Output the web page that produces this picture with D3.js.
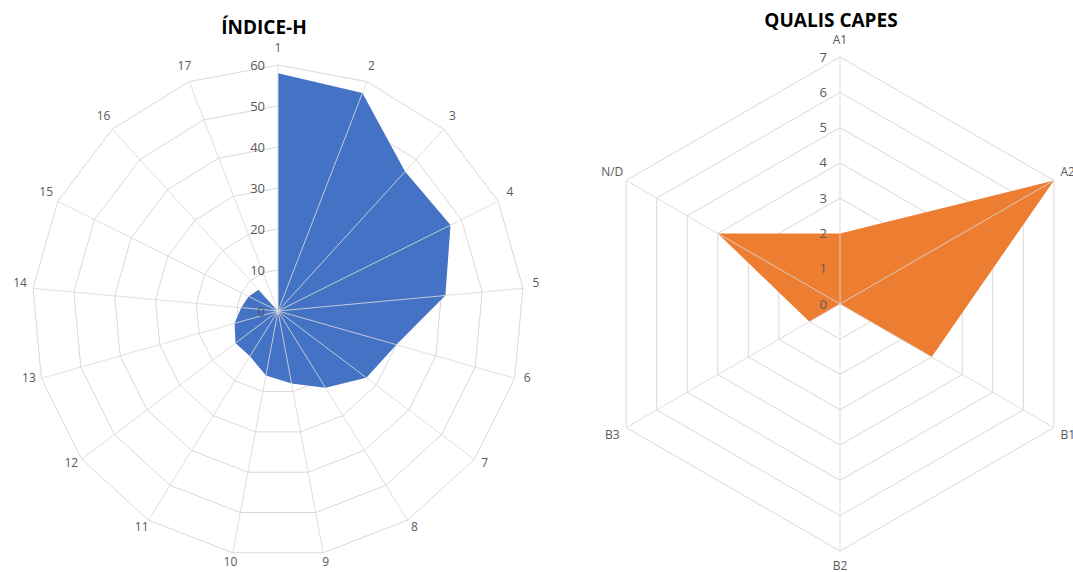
<!DOCTYPE html>
<html>
<head>
<meta charset="utf-8">
<script src="https://cdn.jsdelivr.net/npm/d3@7"></script>
<style>
  body { margin: 0; background: #fff; }
  svg { display: block; font-family: "Open Sans", "Liberation Sans", sans-serif; }
</style>
</head>
<body>
<div id="chart"></div>
<script>
// data
var hCategories = ["1","2","3","4","5","6","7","8","9","10","11","12","13","14","15","16","17"];
var hValues = [58, 57, 46, 47, 41, 30, 27, 22, 18, 16, 13, 13, 11, 9, 8, 7, 0];
var hTicks = [0, 10, 20, 30, 40, 50, 60];

var qCategories = ["A1", "A2", "B1", "B2", "B3", "N/D"];
var qValues = [2, 7, 3, 0, 1, 4];
var qTicks = [0, 1, 2, 3, 4, 5, 6, 7];

var w = 1073, h = 572;

var svg = d3.select("#chart").append("svg")
  .attr("width", w)
  .attr("height", h);

//draw one radar chart
function radar(opts) {
  var n = opts.categories.length;
  var maxV = opts.ticks[opts.ticks.length - 1];

  var rScale = d3.scaleLinear().domain([0, maxV]).range([0, opts.radius]);
  var aScale = d3.scaleLinear().domain([0, n]).range([0, 2 * Math.PI]);

  var g = svg.append("g")
    .attr("transform", "translate(" + opts.cx + "," + opts.cy + ")");

  //rings (polygon grid)
  var ring = d3.lineRadial()
    .angle(function (d, i) { return aScale(i); })
    .radius(function (d) { return rScale(d); })
    .curve(d3.curveLinearClosed);

  g.selectAll(".ring")
    .data(opts.ticks.filter(function (t) { return t > 0; }))
    .enter()
    .append("path")
    .attr("class", "ring")
    .attr("d", function (t) { return ring(d3.range(n).map(function () { return t; })); })
    .attr("fill", "none")
    .attr("stroke", "#d9d9d9")
    .attr("stroke-width", 1);

  //series area
  g.append("path")
    .datum(opts.values)
    .attr("d", ring)
    .attr("fill", opts.color)
    .attr("stroke", "none");

  //spokes, drawn over the area like in the original
  g.selectAll(".spoke")
    .data(d3.range(n))
    .enter()
    .append("line")
    .attr("class", "spoke")
    .attr("x1", 0)
    .attr("y1", 0)
    .attr("x2", function (i) { return rScale(maxV) * Math.sin(aScale(i)); })
    .attr("y2", function (i) { return -rScale(maxV) * Math.cos(aScale(i)); })
    .attr("stroke", "#d9d9d9")
    .attr("stroke-opacity", 0.85)
    .attr("stroke-width", 1);

  //tick labels along first axis
  g.selectAll(".tick-label")
    .data(opts.ticks)
    .enter()
    .append("text")
    .attr("class", "tick-label")
    .attr("x", -13)
    .attr("y", function (t) { return -rScale(t); })
    .attr("dy", "0.35em")
    .attr("text-anchor", "end")
    .style("font-size", "13px")
    .style("fill", "#595959")
    .text(function (t) { return t; });

  //category labels
  g.selectAll(".cat-label")
    .data(opts.categories)
    .enter()
    .append("text")
    .attr("class", "cat-label")
    .attr("x", function (d, i) { return opts.labelR * Math.sin(aScale(i)); })
    .attr("y", function (d, i) { return -opts.labelR * Math.cos(aScale(i)) + opts.labelShift; })
    .attr("dy", "0.35em")
    .attr("text-anchor", "middle")
    .style("font-size", "12px")
    .style("fill", "#595959")
    .text(function (d) { return d; });

  //title
  svg.append("text")
    .attr("x", opts.titleX)
    .attr("y", opts.titleY)
    .attr("text-anchor", "middle")
    .style("font-size", opts.titleSize)
    .style("font-weight", "bold")
    .style("fill", "#000")
    .text(opts.title);
}

radar({
  categories: hCategories,
  values: hValues,
  ticks: hTicks,
  cx: 278, cy: 311, radius: 246, labelR: 259, labelShift: -4,
  color: "#4472c4",
  title: "ÍNDICE-H", titleX: 264, titleY: 34, titleSize: "19px"
});

radar({
  categories: qCategories,
  values: qValues,
  ticks: qTicks,
  cx: 840, cy: 304, radius: 247, labelR: 263, labelShift: -1,
  color: "#ed7d31",
  title: "QUALIS CAPES", titleX: 831, titleY: 27, titleSize: "19px"
});
</script>
</body>
</html>
